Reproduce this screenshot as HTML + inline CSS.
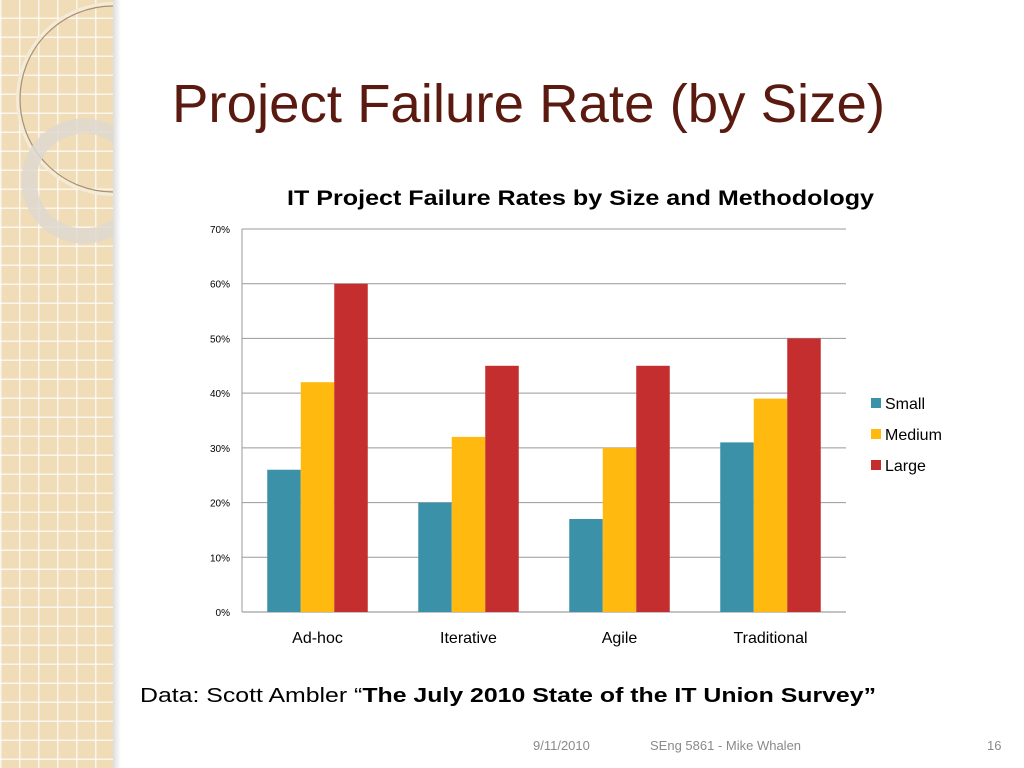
<!DOCTYPE html>
<html><head><meta charset="utf-8"><style>
body{margin:0;width:1024px;height:768px;background:#fff;position:relative;overflow:hidden;font-family:"Liberation Sans",sans-serif}
.strip{position:absolute;left:0;top:0;width:113px;height:768px;background-color:#f0dcb6;
background-image:linear-gradient(90deg,rgba(255,255,255,.75) 1.5px,transparent 1.5px),linear-gradient(0deg,rgba(255,255,255,.75) 1.5px,transparent 1.5px);background-size:19px 19px}
.shadow{position:absolute;left:113px;top:0;width:8px;height:768px;background:linear-gradient(90deg,#ddd,#fff)}
</style></head><body>
<div class="strip"></div>
<div class="shadow"></div>
<svg width="1024" height="768" style="position:absolute;left:0;top:0">
<clipPath id="c"><rect x="0" y="0" width="113" height="768"/></clipPath>
<g clip-path="url(#c)">
<circle cx="113" cy="99" r="95" fill="none" stroke="#f4ead8" stroke-width="4"/>
<circle cx="113" cy="99" r="93" fill="none" stroke="#a89070" stroke-width="1.2"/>
<circle cx="84" cy="181" r="55" fill="none" stroke="#ddd8d0" stroke-width="15" opacity=".85"/>
</g>
<text x="172" y="122" font-family="Liberation Sans" font-size="54" fill="#5a1a10" textLength="713" lengthAdjust="spacingAndGlyphs">Project Failure Rate (by Size)</text>
<text x="287" y="205" font-size="21" font-weight="bold" fill="#000" textLength="587" lengthAdjust="spacingAndGlyphs">IT Project Failure Rates by Size and Methodology</text>
<g id="chart"></g>
<text x="140" y="702" font-size="20" fill="#000" textLength="736" lengthAdjust="spacingAndGlyphs">Data: Scott Ambler “<tspan font-weight="bold">The July 2010 State of the IT Union Survey”</tspan></text>
<text x="533" y="750" font-size="13" fill="#8a8a8a">9/11/2010</text>
<text x="650" y="750" font-size="13" fill="#8a8a8a">SEng 5861 - Mike Whalen</text>
<text x="987" y="750" font-size="13" fill="#8a8a8a">16</text>
</svg>
<script>
const categories=["Ad-hoc","Iterative","Agile","Traditional"];
const small=[26,20,17,31];
const medium=[42,32,30,39];
const large=[60,45,45,50];
const ticks=[0,10,20,30,40,50,60,70];
const seriesNames=["Small","Medium","Large"];
const colors=["#3a91a8","#ffb90f","#c42e2e"];
const NS="http://www.w3.org/2000/svg";
const g=document.getElementById('chart');
const x0=242,x1=846,yTop=229,yBot=612;
const y=v=>yBot-(v/70)*(yBot-yTop);
const gw=(x1-x0)/categories.length, bw=33.5;
function mk(t,a,txt){const e=document.createElementNS(NS,t);for(const k in a)e.setAttribute(k,a[k]);if(txt!==undefined)e.textContent=txt;g.appendChild(e);return e;}
ticks.forEach(t=>{
 const l=mk('line',{x1:x0,x2:x1,y1:y(t),y2:y(t),stroke:t==0?'#888':'#999','stroke-width':1});
 
 
 const tx=mk('text',{x:x0-12,y:y(t)+4,'text-anchor':'end','font-size':10,fill:'#000'},t+'%');
 
 
});
const ax=mk('line',{x1:x0,x2:x0,y1:yTop,y2:yBot,stroke:'#999'});


[small,medium,large].forEach((s,si)=>{
 s.forEach((v,i)=>{
  const cx=x0+gw*(i+0.5);
  const r=mk('rect',{x:cx-1.5*bw+si*bw,y:y(v),width:bw,height:yBot-y(v),fill:colors[si]});
  
  
 });
});
categories.forEach((c,i)=>{
 const t=mk('text',{x:x0+gw*(i+0.5),y:643,'text-anchor':'middle','font-size':16,fill:'#000'},c);
 
 
});
seriesNames.forEach((n,i)=>{
 const r=mk('rect',{x:871,y:398+i*31,width:10,height:10,fill:colors[i]});
 
 
 const t=mk('text',{x:885,y:409+i*31,'font-size':16,fill:'#000'},n);
 
 
});
</script>
</body></html>
